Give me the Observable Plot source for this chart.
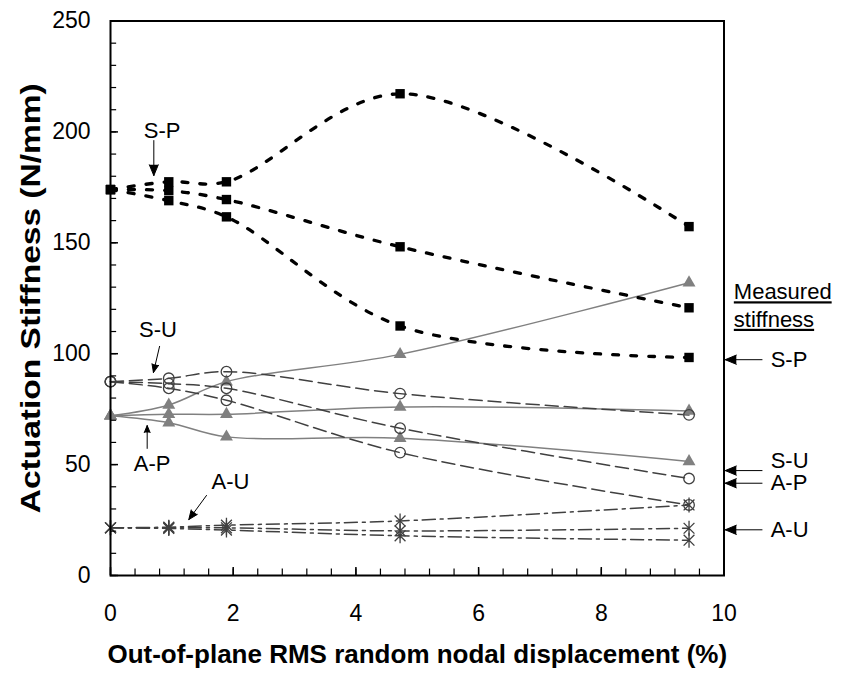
<!DOCTYPE html>
<html>
<head>
<meta charset="utf-8">
<script src="https://cdn.jsdelivr.net/npm/d3@7"></script>
<script src="https://cdn.jsdelivr.net/npm/@observablehq/plot@0.6"></script>
<style>
  html, body { margin: 0; padding: 0; background: #fff; }
  #chart { width: 842px; height: 675px; }
</style>
</head>
<body>
<div id="chart"></div>
<script>
// ---- data ----
const disp = [0, 0.95, 1.89, 4.72, 9.43];

// S-P (black squares, dotted)
const spA = [174, 177.5, 177.5, 217.2, 157.3];
const spB = [174, 173.5, 169.5, 148.2, 120.7];
const spC = [174, 169.0, 161.7, 112.5, 98.3];
// S-U (open circles, dashed)
const suA = [87.4, 88.9, 91.9, 82.0, 72.4];
const suB = [87.4, 86.5, 84.4, 66.4, 43.7];
const suC = [87.4, 84.4, 79.0, 55.4, 31.8];
// A-P (grey triangles, solid)
const apA = [72, 76.9, 87.4, 99.7, 132.0];
const apB = [72, 72.7, 72.7, 76.0, 74.2];
const apC = [72, 68.9, 62.5, 61.9, 51.4];
// A-U (asterisks, dash-dot)
const auA = [21.5, 21.8, 22.7, 24.6, 31.8];
const auB = [21.5, 21.5, 21.5, 20.1, 21.3];
const auC = [21.5, 21.2, 20.5, 17.9, 15.9];

// axis ticks
const xTicks = [0, 2, 4, 6, 8, 10];
const yTicks = [0, 50, 100, 150, 200, 250];
const xMinor = d3.range(0, 10.001, 0.4);
const yMinor = d3.range(0, 250.001, 10);

// annotations (data coordinates)
const annLabels = ["S-P", "S-U", "A-P", "A-U"];
const annX = [0.843, 0.774, 0.68, 1.956];
const annY = [200.6, 110.5, 50.5, 42.1];
const arrX1 = [0.706, 0.80, 0.598, 1.565];
const arrY1 = [196.1, 103.3, 57.3, 36.1];
const arrX2 = [0.706, 0.70, 0.598, 1.276];
const arrY2 = [180.3, 91.5, 67.6, 25.2];

const measLabels = ["S-P", "S-U", "A-P", "A-U"];
const measTextY = [97.3, 51.8, 41.6, 20.6];
const measArrowY = [97.3, 47.3, 41.6, 20.6];
const measTitle = ["Measured", "stiffness"];
const measTitleY = [127.7, 115.3];

const yTitle = "Actuation Stiffness (N/mm)";
const xTitle = "Out-of-plane RMS random nodal displacement (%)";

// ---- build tables ----
function toRows(group, name, arr) {
  return arr.map((v, i) => ({group, series: name, x: disp[i], y: v}));
}
const spRows = [...toRows("SP", "a", spA), ...toRows("SP", "b", spB), ...toRows("SP", "c", spC)];
const suRows = [...toRows("SU", "a", suA), ...toRows("SU", "b", suB), ...toRows("SU", "c", suC)];
const apRows = [...toRows("AP", "a", apA), ...toRows("AP", "b", apB), ...toRows("AP", "c", apC)];
const auRows = [...toRows("AU", "a", auA), ...toRows("AU", "b", auB), ...toRows("AU", "c", auC)];

const annRows = annLabels.map((t, i) => ({t, x: annX[i], y: annY[i], x1: arrX1[i], y1: arrY1[i], x2: arrX2[i], y2: arrY2[i]}));
const measRows = measLabels.map((t, i) => ({t, y: measTextY[i], ay: measArrowY[i]}));
const measTitleRows = measTitle.map((t, i) => ({t, y: measTitleY[i]}));

// asterisk marker: vertical bar + X
const asterisk = {
  draw(ctx, size) {
    const r = Math.sqrt(size / Math.PI);
    const d = r * 0.72;
    ctx.moveTo(0, -r); ctx.lineTo(0, r);
    ctx.moveTo(-d, -d); ctx.lineTo(d, d);
    ctx.moveTo(-d, d); ctx.lineTo(d, -d);
  }
};

const FONT = "'Liberation Sans', Arial, Helvetica, sans-serif";

const chart = Plot.plot({
  width: 842,
  height: 675,
  marginLeft: 110,
  marginRight: 118.5,
  marginTop: 20.5,
  marginBottom: 100,
  style: {fontFamily: FONT, fontSize: "22px", background: "#fff", color: "#000"},
  x: {domain: [0, 10], axis: null},
  y: {domain: [0, 250], axis: null},
  marks: [
    // lines
    Plot.line(apRows, {x: "x", y: "y", z: "series", curve: "catmull-rom", stroke: "#808080", strokeWidth: 1.5}),
    Plot.line(suRows, {x: "x", y: "y", z: "series", curve: "catmull-rom", stroke: "#404040", strokeWidth: 1.5, strokeDasharray: "13,6"}),
    Plot.line(auRows, {x: "x", y: "y", z: "series", curve: "catmull-rom", stroke: "#404040", strokeWidth: 1.5, strokeDasharray: "13,5,3,5"}),
    Plot.line(spRows, {x: "x", y: "y", z: "series", curve: "catmull-rom", stroke: "#000", strokeWidth: 3.3, strokeDasharray: "6,12"}),
    // markers
    Plot.dot(apRows, {x: "x", y: "y", symbol: "triangle", r: 4.8, fill: "#808080", stroke: "none"}),
    Plot.dot(suRows, {x: "x", y: "y", symbol: "circle", r: 5.3, fill: "none", stroke: "#404040", strokeWidth: 1.3}),
    Plot.dot(auRows, {x: "x", y: "y", symbol: asterisk, r: 7.5, fill: "none", stroke: "#404040", strokeWidth: 1.3}),
    Plot.dot(spRows, {x: "x", y: "y", symbol: "square", r: 5.3, fill: "#000", stroke: "none"}),
    // frame & ticks
    Plot.frame({stroke: "#000", strokeWidth: 2}),
    Plot.ruleX(xMinor, {x: d => d, y1: 0, y2: 2.9, stroke: "#000", strokeWidth: 1.2}),
    Plot.ruleX(xTicks, {x: d => d, y1: 0, y2: 3.6, stroke: "#000", strokeWidth: 1.5}),
    Plot.ruleY(yMinor, {y: d => d, x1: 0, x2: 0.1, stroke: "#000", strokeWidth: 1.2}),
    Plot.ruleY(yTicks, {y: d => d, x1: 0, x2: 0.13, stroke: "#000", strokeWidth: 1.5}),
    // tick labels
    Plot.text(xTicks, {x: d => d, text: d => String(d), frameAnchor: "bottom", dy: 38, textAnchor: "middle", lineAnchor: "middle", fontSize: 23}),
    Plot.text(yTicks, {y: d => d, text: d => String(d), frameAnchor: "left", dx: -20, textAnchor: "end", lineAnchor: "middle", fontSize: 23}),
    // axis titles
    Plot.text([xTitle], {text: d => d, frameAnchor: "bottom", dy: 79, textAnchor: "middle", lineAnchor: "middle", fontWeight: "bold", fontSize: 26}),
    Plot.text([yTitle], {text: d => d, frameAnchor: "left", dx: -79, rotate: -90, textAnchor: "middle", lineAnchor: "middle", fontWeight: "bold", fontSize: 27}),
    // inside annotations
    Plot.arrow(annRows, {x1: "x1", y1: "y1", x2: "x2", y2: "y2", stroke: "#000", fill: "#000", strokeWidth: 1, headLength: 18, headAngle: 45}),
    Plot.text(annRows, {x: "x", y: "y", text: "t", textAnchor: "middle", lineAnchor: "middle", fontSize: 22}),
    // measured stiffness annotations
    Plot.text(measTitleRows, {x: 10.16, y: "y", text: "t", textAnchor: "start", lineAnchor: "middle", fontSize: 22}),
    Plot.arrow(measRows, {x1: 10.62, y1: "ay", x2: 10.02, y2: "ay", stroke: "#000", fill: "#000", strokeWidth: 1, headLength: 18, headAngle: 45}),
    Plot.text(measRows, {x: 10.76, y: "y", text: "t", textAnchor: "start", lineAnchor: "middle", fontSize: 22})
  ]
});

const svgText = d3.select(chart).selectAll("text");
svgText
  .filter(function() { return this.textContent === "Measured" || this.textContent === "stiffness"; })
  .attr("text-decoration", "underline");
svgText
  .filter(function() { return this.textContent === yTitle; })
  .attr("textLength", 430)
  .attr("lengthAdjust", "spacingAndGlyphs");

document.getElementById("chart").appendChild(chart);
</script>
</body>
</html>
